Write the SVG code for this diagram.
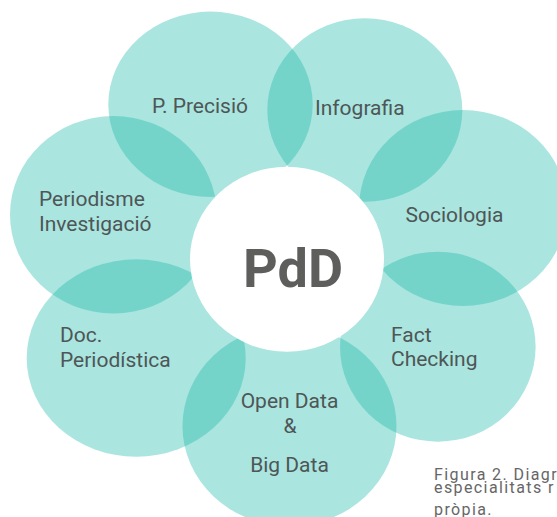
<svg xmlns="http://www.w3.org/2000/svg" width="557" height="517" viewBox="0 0 557 517">
  <defs>
    <style>
      .petal { fill: #16b8a7; fill-opacity: 0.365; }
      .core { fill: #ffffff; }
      .label { font-family: Roboto, "Liberation Sans", sans-serif; font-size: 21px; fill: #4e5656; }
      .mid { text-anchor: middle; }
      .hub { font-family: Roboto, "Liberation Sans", sans-serif; font-size: 54px; font-weight: 700; fill: #5e5e5d; text-anchor: middle; }
      .caption { font-family: Roboto, "Liberation Sans", sans-serif; font-size: 16px; letter-spacing: 1.4px; fill: #666666; }
    </style>
  </defs>

  <rect width="557" height="517" fill="#ffffff"/>

  <!-- petals around the hub -->
  <g id="petal-precisio">
    <ellipse class="petal" cx="210.5" cy="104.3" rx="102.2" ry="92.7"/>
    <text class="label" x="152" y="113.3">P. Precisió</text>
  </g>
  <g id="petal-infografia">
    <ellipse class="petal" cx="364.8" cy="110" rx="97.5" ry="91.7"/>
    <text class="label" x="315" y="115">Infografia</text>
  </g>
  <g id="petal-sociologia">
    <ellipse class="petal" cx="463" cy="208" rx="104" ry="98"/>
    <text class="label" x="405.5" y="221.7">Sociologia</text>
  </g>
  <g id="petal-factchecking">
    <ellipse class="petal" cx="437.8" cy="346.7" rx="97.8" ry="95"/>
    <text class="label" x="391" y="341.7">Fact</text>
    <text class="label" x="391" y="366">Checking</text>
  </g>
  <g id="petal-opendata">
    <ellipse class="petal" cx="289.5" cy="426" rx="107" ry="100"/>
    <text class="label mid" x="289.5" y="408.3">Open Data</text>
    <text class="label mid" x="290" y="433.3">&amp;</text>
    <text class="label mid" x="289.5" y="471.7">Big Data</text>
  </g>
  <g id="petal-doc">
    <ellipse class="petal" cx="136.2" cy="358" rx="109.5" ry="98.7"/>
    <text class="label" x="60" y="341.7">Doc.</text>
    <text class="label" x="60" y="367.3">Periodística</text>
  </g>
  <g id="petal-periodisme">
    <ellipse class="petal" cx="113.4" cy="214.7" rx="103.4" ry="98.7"/>
    <text class="label" x="39" y="206">Periodisme</text>
    <text class="label" x="39" y="231">Investigació</text>
  </g>

  <!-- central hub -->
  <g id="hub">
    <ellipse class="core" cx="287" cy="259.2" rx="97" ry="92.5"/>
    <text class="hub" x="293" y="286.7">PdD</text>
  </g>

  <g id="connectors"></g>

  <!-- figure caption, clipped by the right and bottom edges -->
  <g id="caption">
    <text class="caption" x="434" y="479.5">Figura 2. Diagr</text>
    <text class="caption" x="434" y="493">especialitats r</text>
    <text class="caption" x="434" y="515">pròpia.</text>
  </g>
</svg>
